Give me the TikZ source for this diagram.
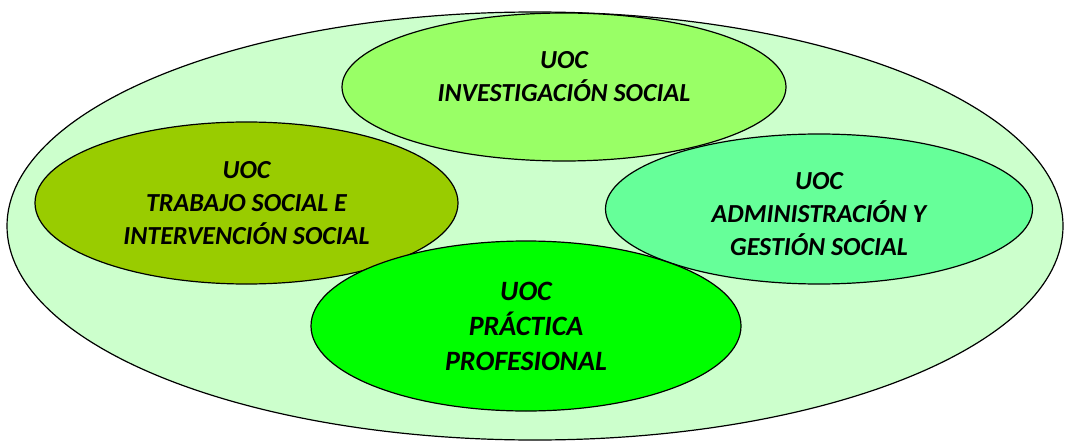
\documentclass[tikz,border=0pt]{standalone}
\usepackage{fontspec}
\setmainfont{Carlito}
\usepackage{tikz}
\usetikzlibrary{shapes.geometric, positioning}
\definecolor{outergreen}{HTML}{CCFFCC}
\definecolor{invgreen}{HTML}{99FF66}
\definecolor{tsgreen}{HTML}{99CC00}
\definecolor{admgreen}{HTML}{66FF99}
\definecolor{ppgreen}{HTML}{00FF00}
\tikzstyle{uoc}=[draw, shape=ellipse, inner sep=0pt, line width=1.2pt, align=center, font=\fontsize{26}{33}\selectfont\bfseries\itshape]
\tikzstyle{uoctxt}=[inner sep=0pt, align=center, font=\fontsize{26}{33}\selectfont\bfseries\itshape]

\begin{document}
\begin{tikzpicture}[x=1pt, y=-1pt]
\useasboundingbox (0,0) rectangle (1067,441);
% the big ellipse round everything
\node[uoc, fill=outergreen, minimum width=1056, minimum height=428] (all) at (535,226) {};
% the four units
\node[uoc, fill=invgreen, minimum width=444, minimum height=148] (inv) at (564,87) {UOC\\INVESTIGACIÓN SOCIAL\\[-11pt]\mbox{}};
\node[uoc, fill=tsgreen, minimum width=423, minimum height=162] (ts) at (246.5,203) {UOC\\TRABAJO SOCIAL E\\INTERVENCIÓN SOCIAL};
\node[uoc, fill=admgreen, minimum width=427, minimum height=150] (adm) at (819,209) {};
\node[uoctxt] (admtxt) at ([yshift=-5.5pt]adm.center) {UOC\\ADMINISTRACIÓN Y\\GESTIÓN SOCIAL};
\node[uoc, fill=ppgreen, minimum width=430, minimum height=170, font=\fontsize{28}{35}\selectfont\bfseries\itshape] (pp) at (526,326) {UOC\\PRÁCTICA\\PROFESIONAL};
\end{tikzpicture}
\end{document}
